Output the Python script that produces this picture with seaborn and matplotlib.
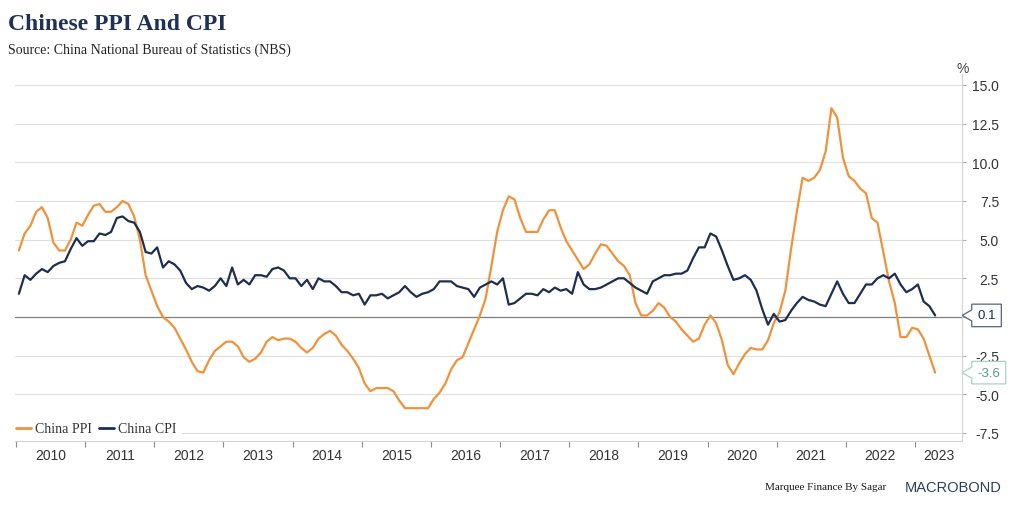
import numpy as np
import pandas as pd
import matplotlib
matplotlib.use("Agg")
import matplotlib.pyplot as plt
from matplotlib.path import Path
import seaborn as sns

sns.set_theme(style="white")
plt.rcParams['font.family'] = ['Liberation Sans', 'DejaVu Sans']
SERIF = ['Liberation Serif', 'DejaVu Serif']

# --- data: monthly YoY %, Jan 2010 .. Apr 2023 ---
start_month = "2010-01"
end_month = "2023-04"

ppi = [
    4.3, 5.4, 5.9, 6.8, 7.1, 6.4, 4.8, 4.3, 4.3, 5.0, 6.1, 5.9,        # 2010
    6.6, 7.2, 7.3, 6.8, 6.8, 7.1, 7.5, 7.3, 6.5, 5.0, 2.7, 1.7,        # 2011
    0.7, 0.0, -0.3, -0.7, -1.4, -2.1, -2.9, -3.5, -3.6, -2.8, -2.2, -1.9,  # 2012
    -1.6, -1.6, -1.9, -2.6, -2.9, -2.7, -2.3, -1.6, -1.3, -1.5, -1.4, -1.4,  # 2013
    -1.6, -2.0, -2.3, -2.0, -1.4, -1.1, -0.9, -1.2, -1.8, -2.2, -2.7, -3.3,  # 2014
    -4.3, -4.8, -4.6, -4.6, -4.6, -4.8, -5.4, -5.9, -5.9, -5.9, -5.9, -5.9,  # 2015
    -5.3, -4.9, -4.3, -3.4, -2.8, -2.6, -1.7, -0.8, 0.1, 1.2, 3.3, 5.5,  # 2016
    6.9, 7.8, 7.6, 6.4, 5.5, 5.5, 5.5, 6.3, 6.9, 6.9, 5.8, 4.9,        # 2017
    4.3, 3.7, 3.1, 3.4, 4.1, 4.7, 4.6, 4.1, 3.6, 3.3, 2.7, 0.9,        # 2018
    0.1, 0.1, 0.4, 0.9, 0.6, 0.0, -0.3, -0.8, -1.2, -1.6, -1.4, -0.5,  # 2019
    0.1, -0.4, -1.5, -3.1, -3.7, -3.0, -2.4, -2.0, -2.1, -2.1, -1.5, -0.4,  # 2020
    0.3, 1.7, 4.4, 6.8, 9.0, 8.8, 9.0, 9.5, 10.7, 13.5, 12.9, 10.3,    # 2021
    9.1, 8.8, 8.3, 8.0, 6.4, 6.1, 4.2, 2.3, 0.9, -1.3, -1.3, -0.7,     # 2022
    -0.8, -1.4, -2.5, -3.6,                                            # 2023
]

cpi = [
    1.5, 2.7, 2.4, 2.8, 3.1, 2.9, 3.3, 3.5, 3.6, 4.4, 5.1, 4.6,        # 2010
    4.9, 4.9, 5.4, 5.3, 5.5, 6.4, 6.5, 6.2, 6.1, 5.5, 4.2, 4.1,        # 2011
    4.5, 3.2, 3.6, 3.4, 3.0, 2.2, 1.8, 2.0, 1.9, 1.7, 2.0, 2.5,        # 2012
    2.0, 3.2, 2.1, 2.4, 2.1, 2.7, 2.7, 2.6, 3.1, 3.2, 3.0, 2.5,        # 2013
    2.5, 2.0, 2.4, 1.8, 2.5, 2.3, 2.3, 2.0, 1.6, 1.6, 1.4, 1.5,        # 2014
    0.8, 1.4, 1.4, 1.5, 1.2, 1.4, 1.6, 2.0, 1.6, 1.3, 1.5, 1.6,        # 2015
    1.8, 2.3, 2.3, 2.3, 2.0, 1.9, 1.8, 1.3, 1.9, 2.1, 2.3, 2.1,        # 2016
    2.5, 0.8, 0.9, 1.2, 1.5, 1.5, 1.4, 1.8, 1.6, 1.9, 1.7, 1.8,        # 2017
    1.5, 2.9, 2.1, 1.8, 1.8, 1.9, 2.1, 2.3, 2.5, 2.5, 2.2, 1.9,        # 2018
    1.7, 1.5, 2.3, 2.5, 2.7, 2.7, 2.8, 2.8, 3.0, 3.8, 4.5, 4.5,        # 2019
    5.4, 5.2, 4.3, 3.3, 2.4, 2.5, 2.7, 2.4, 1.7, 0.5, -0.5, 0.2,       # 2020
    -0.3, -0.2, 0.4, 0.9, 1.3, 1.1, 1.0, 0.8, 0.7, 1.5, 2.3, 1.5,      # 2021
    0.9, 0.9, 1.5, 2.1, 2.1, 2.5, 2.7, 2.5, 2.8, 2.1, 1.6, 1.8,        # 2022
    2.1, 1.0, 0.7, 0.1,                                                # 2023
]

series_names = ["China PPI", "China CPI"]
series_colors = ["#F0923B", "#1D2E4E"]
years = list(range(2010, 2024))
yticks = [15.0, 12.5, 10.0, 7.5, 5.0, 2.5, 0.0, -2.5, -5.0, -7.5]

# --- build long table for seaborn ---
months = pd.period_range(start_month, end_month, freq="M")
xpos = months.year + (months.month - 0.5) / 12.0
df = pd.concat([
    pd.DataFrame({"x": xpos, "value": ppi, "series": series_names[0]}),
    pd.DataFrame({"x": xpos, "value": cpi, "series": series_names[1]}),
], ignore_index=True)

fig = plt.figure(figsize=(10.12, 5.06), dpi=100)
ax = fig.add_axes([15 / 1012, 64 / 506, 947 / 1012, 367 / 506])

ax.axhline(0, color="#808080", lw=0.9, zorder=1.8)
sns.lineplot(data=df, x="x", y="value", hue="series", hue_order=series_names,
             palette=dict(zip(series_names, series_colors)), linewidth=1.6,
             ax=ax, zorder=2)

ax.set_xlim(2009.9855, 2023.68)
ax.set_ylim(-8.02, 15.71)
ax.set_xlabel("")
ax.set_ylabel("")

# x axis: tick marks at year boundaries, labels centred in each year
ax.set_xticks(years)
ax.set_xticklabels([""] * len(years))
centers = [y + 0.5 for y in years[:-1]] + [(2023 + 2023.68) / 2]
ax.set_xticks(centers, minor=True)
ax.set_xticklabels([str(y) for y in years], minor=True)
ax.tick_params(axis="x", which="major", bottom=True, length=4.3, width=0.8,
               color="#8c8c8c")
ax.tick_params(axis="x", which="minor", bottom=True, length=0, pad=5,
               labelsize=10, labelcolor="#333333")

# y axis on the right (0.0 sits under the CPI tag, so it has no label)
ax.yaxis.tick_right()
ax.set_yticks(yticks)
ax.set_yticklabels(["" if v == 0 else f"{v:.1f}" for v in yticks])
ax.tick_params(axis="y", right=True, length=2.9, width=0.8, color="#b0b0b0",
               pad=23.8, labelsize=10, labelcolor="#333333")
plt.setp(ax.get_yticklabels(), ha="right")
ax.yaxis.grid(True, color="#dedede", lw=0.8)
ax.xaxis.grid(False)
ax.set_axisbelow(True)

for side in ["top", "left"]:
    ax.spines[side].set_visible(False)
for side in ["right", "bottom"]:
    ax.spines[side].set_color("#d4d4d4")
    ax.spines[side].set_linewidth(0.8)

# legend
handles, labels = ax.get_legend_handles_labels()
leg = ax.legend(handles, labels, loc="center left",
                bbox_to_anchor=(10.4 / 1012, 1 - 430 / 506),
                bbox_transform=fig.transFigure, ncol=2, frameon=True,
                fancybox=False, framealpha=1, borderpad=0.4, borderaxespad=0,
                handlelength=1.1, handletextpad=0.3, columnspacing=0.45,
                prop={"family": SERIF, "size": 10})
leg.get_frame().set_facecolor("white")
leg.get_frame().set_edgecolor("none")
for t in leg.get_texts():
    t.set_color("#333333")
for h in leg.legend_handles:
    h.set_linewidth(2)


# last value tags on the right
def tag_box(x0, y0, width, height, mutation_size):
    px = 0.42 * mutation_size
    py = 0.4 * mutation_size
    notch = 0.72 * mutation_size
    half = 0.42 * mutation_size
    left = x0 - px
    right = x0 + width + px
    bottom = y0 - py
    top = y0 + height + py
    mid = (bottom + top) / 2
    verts = [(left, bottom), (right, bottom), (right, top), (left, top),
             (left, mid + half), (left - notch, mid), (left, mid - half),
             (left, bottom)]
    return Path(verts, closed=True)


tags = [
    (cpi[-1], "#1D2E4E", "#55627a"),
    (ppi[-1], "#4f9c84", "#a9d2c3"),
]
for val, tcol, ecol in tags:
    ax.annotate(f"{val:.1f}", xy=(1, val), xycoords=ax.get_yaxis_transform(),
                xytext=(11, 0), textcoords="offset points",
                ha="left", va="center", fontsize=9.5, color=tcol,
                annotation_clip=False, zorder=5,
                bbox=dict(boxstyle=tag_box, fc="white", ec=ecol, lw=0.9))

# titles and footer
fig.text(8 / 1012, 1 - 30 / 506, "Chinese PPI And CPI", family=SERIF,
         fontsize=17, fontweight="bold", color="#1F3256", va="baseline")
fig.text(8 / 1012, 1 - 53.5 / 506,
         "Source: China National Bureau of Statistics (NBS)", family=SERIF,
         fontsize=10, color="#222222", va="baseline")
fig.text(963 / 1012, 1 - 72.7 / 506, "%", fontsize=10, color="#444444",
         ha="center", va="baseline")
fig.text(765 / 1012, 1 - 490 / 506, "Marquee Finance By Sagar", family=SERIF,
         fontsize=8, color="#1a1a1a", va="baseline")
fig.text(905 / 1012, 1 - 491.7 / 506, "MACROBOND", fontsize=10.5,
         color="#2E3F5E", va="baseline")

fig.savefig("out.png", dpi=100)
